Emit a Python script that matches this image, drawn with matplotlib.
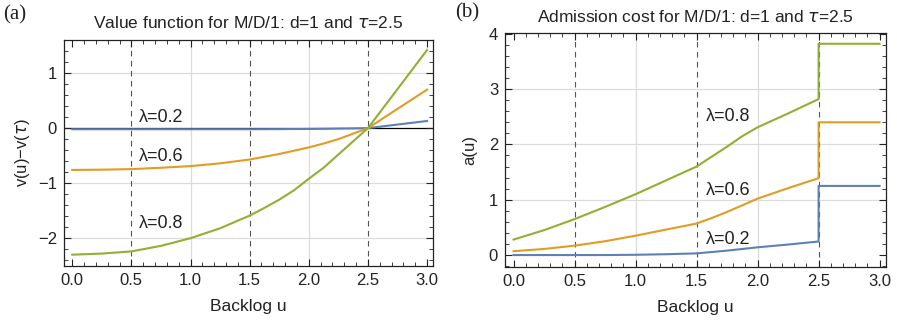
import matplotlib.pyplot as plt
import numpy as np
from matplotlib.ticker import MultipleLocator, FormatStrFormatter

plt.rcParams['font.family'] = ['Liberation Sans', 'DejaVu Sans']
plt.rcParams['axes.unicode_minus'] = True

# colours (Mathematica default palette)
blue = '#5E81B5'
orange = '#E19C24'
green = '#8FB032'

# (a) value function v(u)-v(tau)
u_a = [0.0, 0.25, 0.5, 0.75, 1.0, 1.25, 1.5, 1.625, 1.75, 1.875, 2.0, 2.125, 2.25, 2.375, 2.5, 2.75, 3.0]
v_02 = [-0.02, -0.02, -0.02, -0.02, -0.02, -0.02, -0.02, -0.019, -0.018, -0.016, -0.015, -0.012, -0.008, -0.004, 0.0, 0.065, 0.13]
v_06 = [-0.76, -0.755, -0.745, -0.72, -0.69, -0.64, -0.57, -0.52, -0.47, -0.41, -0.35, -0.28, -0.20, -0.10, 0.0, 0.35, 0.70]
v_08 = [-2.30, -2.28, -2.24, -2.14, -2.00, -1.82, -1.59, -1.45, -1.30, -1.13, -0.92, -0.72, -0.48, -0.24, 0.0, 0.71, 1.42]

# (b) admission cost a(u), jump at u=2.5
u_b = [0.0, 0.25, 0.5, 0.75, 1.0, 1.25, 1.5, 1.625, 1.75, 1.875, 2.0, 2.25, 2.5, 2.5, 3.0]
a_02 = [0.0, 0.0, 0.0, 0.0, 0.005, 0.015, 0.03, 0.055, 0.08, 0.11, 0.14, 0.19, 0.245, 1.25, 1.25]
a_06 = [0.07, 0.11, 0.17, 0.25, 0.35, 0.46, 0.57, 0.67, 0.78, 0.90, 1.02, 1.21, 1.39, 2.40, 2.40]
a_08 = [0.28, 0.45, 0.65, 0.87, 1.10, 1.35, 1.60, 1.78, 1.96, 2.15, 2.31, 2.56, 2.82, 3.82, 3.82]

dashed_u = [0.5, 1.5, 2.5]
grid_u = [1.0, 2.0]
txt = '#222222'

fig = plt.figure(figsize=(8.97, 3.26), dpi=100)
ax1 = fig.add_axes([0.0713, 0.185, 0.4114, 0.692])
ax2 = fig.add_axes([0.563, 0.182, 0.4244, 0.716])


def style(ax, yticks):
    ax.set_xlim(-0.07, 3.05)
    ax.xaxis.set_major_locator(MultipleLocator(0.5))
    ax.xaxis.set_minor_locator(MultipleLocator(0.1))
    ax.xaxis.set_major_formatter(FormatStrFormatter('%.1f'))
    ax.set_yticks(yticks)
    ax.yaxis.set_minor_locator(MultipleLocator(0.2))
    ax.tick_params(which='both', direction='in', top=True, right=True,
                   labeltop=False, labelright=False, color='#222222', labelsize=12,
                   labelcolor=txt)
    ax.tick_params(which='major', length=5, width=0.8, pad=5)
    ax.tick_params(which='minor', length=3, width=0.6)
    for s in ax.spines.values():
        s.set_linewidth(0.9)
        s.set_color('#222222')
    for g in grid_u:
        ax.axvline(g, color='#dcdcdc', lw=0.9, zorder=0)
    for d in dashed_u:
        ax.axvline(d, color='#555555', lw=0.8, ls=(0, (5, 4)), zorder=1)
    ax.set_xlabel('Backlog u', fontsize=12.5, color=txt, labelpad=8)


# panel (a)
style(ax1, [-2, -1, 0, 1])
ax1.set_ylim(-2.5, 1.6)
for y in [-2, -1, 1]:
    ax1.axhline(y, color='#dcdcdc', lw=0.9, zorder=0)
ax1.axhline(0, color='black', lw=0.9, zorder=1.5)
ax1.plot(u_a, v_02, color=blue, lw=1.5, zorder=3)
ax1.plot(u_a, v_06, color=orange, lw=1.5, zorder=3)
ax1.plot(u_a, v_08, color=green, lw=1.5, zorder=3)
ax1.set_ylabel('v(u)\u2212v($\\tau$)', fontsize=12, color=txt, labelpad=4)
ax1.set_title('Value function for M/D/1: d=1 and $\\tau$=2.5', fontsize=12.5,
              color=txt, pad=9)
ax1.text(0.56, 0.2, '\u03bb=0.2', fontsize=13, color=txt, va='center')
ax1.text(0.56, -0.52, '\u03bb=0.6', fontsize=13, color=txt, va='center')
ax1.text(0.56, -1.73, '\u03bb=0.8', fontsize=13, color=txt, va='center')

# panel (b)
style(ax2, [0, 1, 2, 3, 4])
ax2.set_ylim(-0.21, 4.01)
for y in [1, 2, 3]:
    ax2.axhline(y, color='#dcdcdc', lw=0.9, zorder=0)
ax2.plot(u_b, a_02, color=blue, lw=1.5, zorder=3)
ax2.plot(u_b, a_06, color=orange, lw=1.5, zorder=3)
ax2.plot(u_b, a_08, color=green, lw=1.5, zorder=3)
ax2.set_ylabel('a(u)', fontsize=12, color=txt, labelpad=8)
ax2.set_title('Admission cost for M/D/1: d=1 and $\\tau$=2.5', fontsize=12.5,
              color=txt, pad=8)
ax2.text(1.575, 2.5, '\u03bb=0.8', fontsize=13, color=txt, va='center')
ax2.text(1.575, 1.16, '\u03bb=0.6', fontsize=13, color=txt, va='center')
ax2.text(1.575, 0.28, '\u03bb=0.2', fontsize=13, color=txt, va='center')

fig.text(0.004, 0.955, '(a)', family=['Liberation Serif', 'DejaVu Serif'],
         fontsize=15, color=txt, va='center')
fig.text(0.507, 0.962, '(b)', family=['Liberation Serif', 'DejaVu Serif'],
         fontsize=15, color=txt, va='center')

fig.savefig('out.png', dpi=100)
